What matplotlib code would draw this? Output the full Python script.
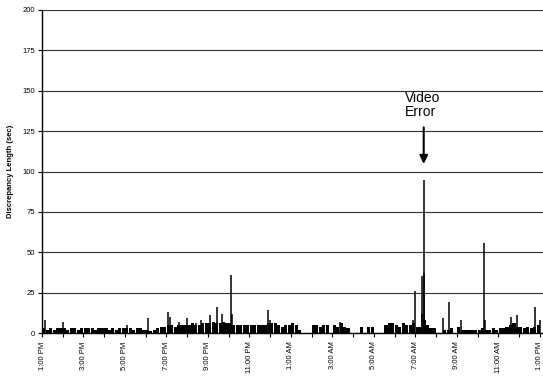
import matplotlib
matplotlib.use("Agg")
import matplotlib.pyplot as plt
import numpy as np

plt.rcParams['font.family'] = ['Liberation Sans', 'DejaVu Sans']

# 10-minute baseline discrepancy lengths (sec), starting 1:00 PM, one row per hour
baseline = [
    [3, 2, 3, 2, 3, 3],   # 1 PM
    [3, 2, 3, 3, 2, 3],   # 2 PM
    [3, 3, 3, 2, 3, 3],   # 3 PM
    [3, 2, 3, 2, 3, 3],   # 4 PM
    [3, 3, 2, 3, 3, 2],   # 5 PM
    [2, 1, 2, 3, 4, 4],   # 6 PM
    [5, 5, 4, 5, 5, 5],   # 7 PM
    [5, 6, 5, 5, 6, 6],   # 8 PM
    [6, 7, 6, 6, 7, 6],   # 9 PM
    [6, 5, 5, 5, 5, 5],   # 10 PM
    [5, 5, 5, 5, 5, 6],   # 11 PM
    [6, 6, 5, 4, 5, 5],   # 12 AM
    [6, 5, 2, 0, 0, 0],   # 1 AM
    [5, 5, 4, 5, 5, 0],   # 2 AM
    [5, 4, 6, 4, 3, 0],   # 3 AM
    [0, 0, 4, 0, 4, 4],   # 4 AM
    [0, 0, 0, 5, 6, 6],   # 5 AM
    [5, 4, 6, 5, 5, 6],   # 6 AM
    [4, 4, 8, 5, 3, 3],   # 7 AM
    [0, 0, 2, 2, 3, 0],   # 8 AM
    [4, 2, 2, 2, 2, 2],   # 9 AM
    [2, 3, 2, 2, 3, 2],   # 10 AM
    [3, 3, 4, 5, 6, 4],   # 11 AM
    [4, 3, 4, 3, 4, 5],   # 12 PM
]

# isolated spikes: hours after 1:00 PM, value (sec)
spike_hours = [0.15, 1.0, 4.1, 5.1, 6.05, 6.15, 6.6, 7.0, 7.4, 7.65, 8.1, 8.45, 8.7,
               9.11, 9.18, 10.9, 11.0, 14.35, 17.9, 18.0, 18.3, 18.33, 18.4, 18.43,
               19.33, 19.61, 20.2, 21.3, 21.36, 22.6, 22.9, 23.76, 24.0]
spike_values = [8, 7, 5, 9, 13, 10, 7, 9, 6, 8, 11, 16, 12,
                36, 12, 14, 8, 7, 8, 26, 12, 35, 95, 37,
                9, 19, 8, 56, 8, 10, 11, 16, 8]

tick_labels = ['1:00 PM', '3:00 PM', '5:00 PM', '7:00 PM', '9:00 PM', '11:00 PM',
               '1:00 AM', '3:00 AM', '5:00 AM', '7:00 AM', '9:00 AM', '11:00 AM',
               '1:00 PM']

base_vals = np.array(baseline).ravel()
base_t = np.arange(len(base_vals)) / 6.0 + 1 / 12.0

fig = plt.figure(figsize=(5.43, 3.76), dpi=100)
ax = fig.add_axes([42 / 543, 43 / 376, 1 - 42 / 543, (333 - 10) / 376])

ax.bar(base_t, base_vals, width=0.15, color='black', linewidth=0, zorder=3)
ax.vlines(spike_hours, 0, spike_values, color='black', linewidth=1.1, zorder=3)

ax.set_ylim(0, 200)
ax.set_xlim(0, 24.15)
ax.set_yticks(np.arange(0, 201, 25))
ax.yaxis.grid(True, color='#303030', linewidth=0.8)
ax.set_axisbelow(True)

ax.set_xticks(np.arange(0, 25, 2))
ax.set_xticklabels(tick_labels, rotation=90, fontsize=5.5)
ax.set_xticks(np.arange(0, 25, 1), minor=True)
ax.tick_params(axis='x', which='both', length=3, width=0.8, direction='out', pad=3)
ax.tick_params(axis='y', length=3, width=0.8, labelsize=5.5, pad=2)

for s in ['top', 'right']:
    ax.spines[s].set_visible(False)
for s in ['left', 'bottom']:
    ax.spines[s].set_linewidth(1.0)
    ax.spines[s].set_color('black')

ax.set_ylabel('Discrepancy Length (sec)', fontsize=5.5, fontweight='bold', labelpad=6)

ax.text(17.49, 141, 'Video\nError', fontsize=10, ha='left', va='center',
        linespacing=1.0)
ax.annotate('', xy=(18.4, 103), xytext=(18.4, 129),
            arrowprops=dict(arrowstyle='-|>', color='black', lw=1.5,
                            mutation_scale=12))

fig.savefig('out.png', dpi=100)
